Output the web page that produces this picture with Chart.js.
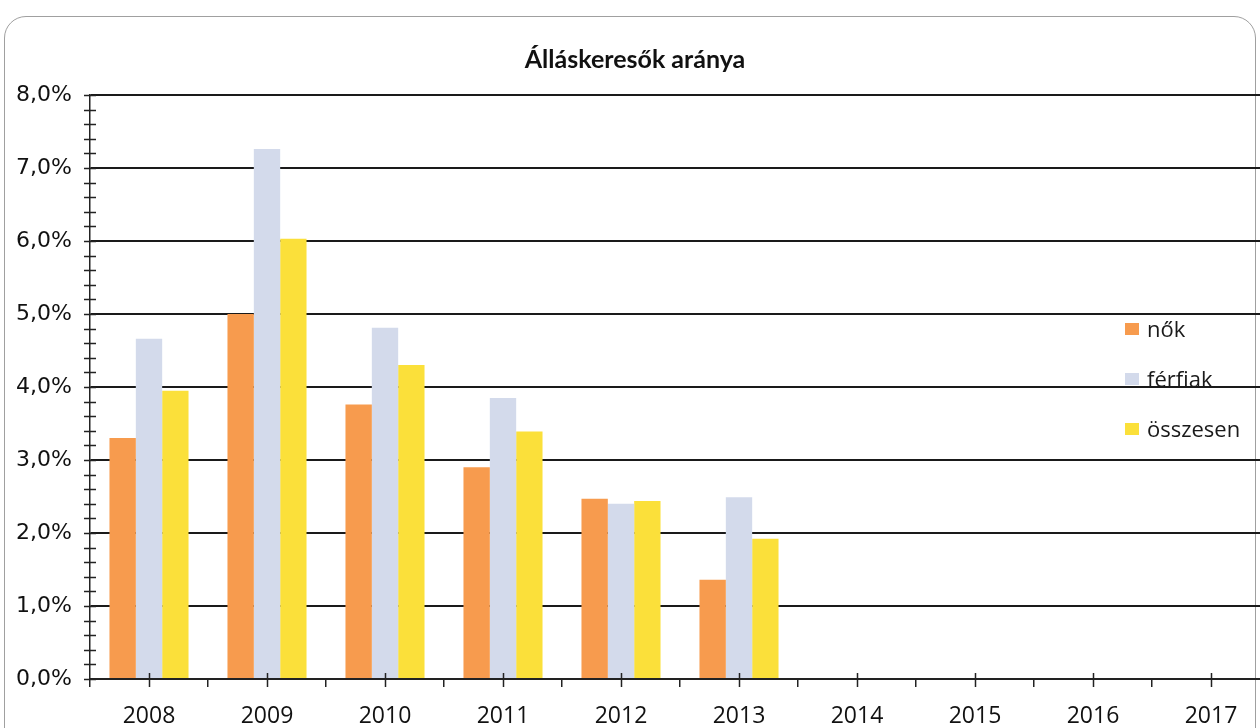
<!DOCTYPE html>
<html>
<head>
<meta charset="utf-8">
<script src="https://cdn.jsdelivr.net/npm/chart.js@4.4.1/dist/chart.umd.min.js"></script>
<style>
  html, body { margin: 0; padding: 0; background: #fff; overflow: hidden; width: 1260px; height: 728px; }
  #frame { position: absolute; left: 4px; top: 16px; width: 1252px; height: 760px; border: 1.5px solid #a0a0a0; border-radius: 22px; box-sizing: border-box; }
  #wrap { position: absolute; left: 0; top: 0; width: 1280px; height: 728px; }
  #legend { position: absolute; left: 1125px; top: 311px; font-family: 'Open Sans', sans-serif; font-size: 22px; color: #1a1a1a; }
  .li { position: relative; height: 50px; line-height: 34px; white-space: nowrap; }
  .sw { display: inline-block; width: 14px; height: 12px; margin-right: 8px; vertical-align: middle; position: relative; top: -2px; }
</style>
</head>
<body>
<div id="frame"></div>
<div id="wrap"><canvas id="c" width="1280" height="728"></canvas></div>
<div id="legend"></div>
<script>
const titleText = 'Álláskeresők aránya';
const categories = ['2008', '2009', '2010', '2011', '2012', '2013', '2014', '2015', '2016', '2017'];
const seriesNames = ['nők', 'férfiak', 'összesen'];
const nokValues      = [3.30, 5.00, 3.76, 2.90, 2.47, 1.36, null, null, null, null];
const ferfiakValues  = [4.66, 7.26, 4.81, 3.85, 2.40, 2.49, null, null, null, null];
const osszesenValues = [3.95, 6.03, 4.30, 3.39, 2.44, 1.92, null, null, null, null];
const yTicksMax = 8;
const seriesColors = ['#F79B4E', '#D3DAEB', '#FBE03A'];

function fmt(v) { return v.toFixed(1).replace('.', ',') + '%'; }
function isMajor(v) { return Math.abs(v - Math.round(v)) < 1e-6; }

const crossTicks = {
  id: 'crossTicks',
  afterDraw(chart) {
    const ctx = chart.ctx, x = chart.scales.x, y = chart.scales.y;
    ctx.save();
    ctx.strokeStyle = '#222';
    ctx.lineWidth = 1.5;
    ctx.beginPath();
    for (let k = 0; k <= yTicksMax * 5; k++) {
      const py = Math.round(y.getPixelForValue(k * 0.2)) + 0.5;
      ctx.moveTo(x.left - 6, py); ctx.lineTo(x.left + 6, py);
    }
    for (let i = 0; i < categories.length; i++) {
      const px = Math.round(x.getPixelForValue(i)) + 0.5;
      ctx.moveTo(px, y.bottom - 6); ctx.lineTo(px, y.bottom + 8);
    }
    ctx.stroke();
    ctx.restore();
  }
};

const chart = new Chart(document.getElementById('c'), {
  type: 'bar',
  data: {
    labels: categories,
    datasets: [
      { label: seriesNames[0], data: nokValues, backgroundColor: seriesColors[0] },
      { label: seriesNames[1], data: ferfiakValues, backgroundColor: seriesColors[1] },
      { label: seriesNames[2], data: osszesenValues, backgroundColor: seriesColors[2] }
    ]
  },
  options: {
    responsive: false,
    animation: false,
    layout: { padding: { left: 0, right: 10, top: 0, bottom: 0 } },
    datasets: { bar: { categoryPercentage: 0.67, barPercentage: 1.0, borderWidth: 0 } },
    plugins: {
      legend: { display: false },
      tooltip: { enabled: false },
      title: {
        display: true,
        text: titleText,
        color: '#111',
        font: { family: "Lato, 'Open Sans', sans-serif", size: 25, weight: 'bold' },
        padding: { top: 45, bottom: 20 }
      }
    },
    scales: {
      x: {
        offset: true,
        grid: { offset: true, drawOnChartArea: false, drawTicks: true, tickLength: 8, color: '#222', lineWidth: 1.5 },
        border: { display: true, color: '#222', width: 2 },
        ticks: { color: '#111', padding: 16, font: { family: "'Open Sans', sans-serif", size: 23 } },
        afterFit(s) { s.height = 49; }
      },
      y: {
        min: 0, max: yTicksMax,
        grid: {
          drawTicks: false,
          color: (c) => (c.tick && isMajor(c.tick.value) && c.tick.value !== 0) ? '#1a1a1a' : 'rgba(0,0,0,0)',
          lineWidth: 2
        },
        border: { display: true, color: '#222', width: 1.5 },
        ticks: {
          stepSize: 0.2,
          autoSkip: false,
          padding: 18,
          color: '#111',
          font: { family: "'DejaVu Sans', sans-serif", size: 22 },
          callback: (v) => isMajor(v) ? fmt(Math.round(v)) : ''
        },
        afterFit(s) { s.width = 90; }
      }
    }
  },
  plugins: [crossTicks]
});

const legendEl = document.getElementById('legend');
chart.data.datasets.forEach((ds) => {
  const row = document.createElement('div');
  row.className = 'li';
  const sw = document.createElement('span');
  sw.className = 'sw';
  sw.style.background = ds.backgroundColor;
  row.appendChild(sw);
  row.appendChild(document.createTextNode(ds.label));
  legendEl.appendChild(row);
});
</script>
</body>
</html>
